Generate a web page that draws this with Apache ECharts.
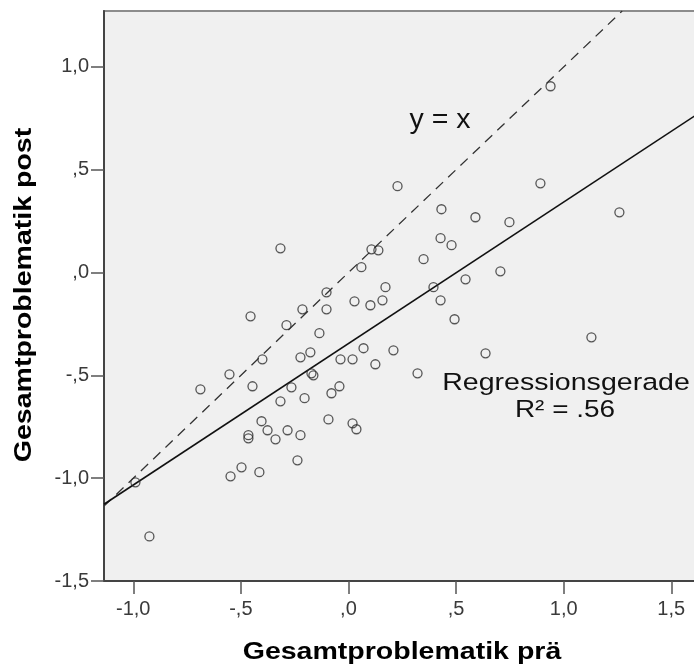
<!DOCTYPE html>
<html>
<head>
<meta charset="utf-8">
<title>Gesamtproblematik prä / post</title>
<script src="https://cdn.jsdelivr.net/npm/echarts@6/dist/echarts.min.js"></script>
<style>
  html, body { margin: 0; padding: 0; background: #ffffff; }
  #chart { width: 694px; height: 666px; }
</style>
</head>
<body>
<div id="chart"></div>
<script>
// Gesamtproblematik vor (prä) und nach (post) – ein Wert pro Person
const praValues = [
  0.939, 0.228, 0.892, 1.259, 0.432, 0.590, 0.748, 0.428, 0.479, 0.107,
  0.139, 0.060, 0.349, 0.172, 0.028, 0.102, 0.158, 0.395, 0.428, 0.544,
  0.706, 0.493, -0.316, -0.102, -0.214, -0.102, -0.288, -0.135, -0.400, -0.223,
  -0.177, -0.037, 0.019, 0.070, 0.125, 0.209, 0.637, 0.321, 1.129, -0.172,
  -0.163, -0.265, -0.042, -0.079, -0.455, -0.553, -0.446, -0.688, -0.316, -0.204,
  -0.404, -0.093, -0.376, -0.283, -0.339, -0.223, -0.465, -0.465, -0.237, -0.548,
  -0.497, -0.414, -0.990, -0.925, 0.019, 0.037
];
const postValues = [
  0.906, 0.420, 0.434, 0.293, 0.308, 0.269, 0.245, 0.167, 0.133, 0.113,
  0.108, 0.026, 0.065, -0.071, -0.140, -0.159, -0.135, -0.071, -0.135, -0.033,
  0.006, -0.227, 0.118, -0.096, -0.179, -0.179, -0.256, -0.295, -0.422, -0.412,
  -0.388, -0.422, -0.422, -0.368, -0.446, -0.378, -0.393, -0.490, -0.315, -0.490,
  -0.500, -0.558, -0.553, -0.587, -0.213, -0.495, -0.553, -0.568, -0.626, -0.611,
  -0.723, -0.714, -0.767, -0.767, -0.811, -0.791, -0.791, -0.806, -0.913, -0.991,
  -0.947, -0.971, -1.020, -1.283, -0.733, -0.762
];

// Lineare Regression post ~ prä
const regressionSlope = 0.688;
const regressionIntercept = -0.345;
const rSquaredText = 'R\u00b2 = .56';

// Achsenbereiche und Beschriftungen (deutsches Dezimalkomma, ohne führende Null)
const xRange = [-1.136, 1.615];
const yRange = [-1.5, 1.272];
const xTickValues = [-1.0, -0.5, 0.0, 0.5, 1.0, 1.5];
const xTickLabels = ['-1,0', '-,5', ',0', ',5', '1,0', '1,5'];
const yTickValues = [-1.5, -1.0, -0.5, 0.0, 0.5, 1.0];
const yTickLabels = ['-1,5', '-1,0', '-,5', ',0', ',5', '1,0'];

const xTitle = 'Gesamtproblematik prä';
const yTitle = 'Gesamtproblematik post';

const points = praValues.map((x, i) => [x, postValues[i]]);
const regressionLine = [
  [xRange[0], regressionIntercept + regressionSlope * xRange[0]],
  [xRange[1], regressionIntercept + regressionSlope * xRange[1]]
];
const identityLine = [
  [xRange[0], xRange[0]],
  [yRange[1], yRange[1]]
];

function tickLabel(values, labels) {
  return function (v) {
    const i = values.findIndex(t => Math.abs(t - v) < 1e-9);
    return i >= 0 ? labels[i] : '';
  };
}

const tickFont = {
  color: '#3a3a3a',
  fontSize: 20,
  fontFamily: 'Liberation Sans, Arial, sans-serif'
};

const chart = echarts.init(document.getElementById('chart'), null, { renderer: 'canvas' });

chart.setOption({
  animation: false,
  backgroundColor: '#ffffff',
  grid: {
    left: 104,
    top: 11,
    right: -2,
    bottom: 85,
    show: true,
    backgroundColor: '#f0f0f0',
    borderColor: '#8c8c8c',
    borderWidth: 2,
    outerBoundsMode: 'none'
  },
  xAxis: {
    type: 'value',
    min: xRange[0],
    max: xRange[1],
    splitLine: { show: false },
    axisLine: { show: true, onZero: false, lineStyle: { color: '#444', width: 2 } },
    axisTick: {
      show: true,
      length: 13,
      customValues: xTickValues,
      lineStyle: { color: '#555', width: 1.5 }
    },
    axisLabel: Object.assign({
      customValues: xTickValues,
      margin: 18,
      formatter: tickLabel(xTickValues, xTickLabels)
    }, tickFont)
  },
  yAxis: {
    type: 'value',
    min: yRange[0],
    max: yRange[1],
    splitLine: { show: false },
    axisLine: { show: true, onZero: false, lineStyle: { color: '#444', width: 2 } },
    axisTick: {
      show: true,
      length: 13,
      customValues: yTickValues,
      lineStyle: { color: '#555', width: 1.5 }
    },
    axisLabel: Object.assign({
      customValues: yTickValues,
      margin: 15,
      formatter: tickLabel(yTickValues, yTickLabels)
    }, tickFont)
  },
  series: [
    {
      name: 'y = x',
      type: 'line',
      data: identityLine,
      showSymbol: false,
      silent: true,
      lineStyle: { color: '#333', width: 1.3, type: [10, 7] },
      z: 2
    },
    {
      name: 'Regressionsgerade',
      type: 'line',
      data: regressionLine,
      showSymbol: false,
      silent: true,
      lineStyle: { color: '#111', width: 1.6, type: 'solid' },
      z: 3
    },
    {
      name: 'Personen',
      type: 'scatter',
      data: points,
      symbol: 'circle',
      symbolSize: 9,
      itemStyle: { color: 'rgba(0,0,0,0)', borderColor: '#2e2e2e', borderWidth: 1.3 },
      z: 4
    }
  ],
  graphic: [
    {
      type: 'text',
      x: 402,
      y: 653,
      scaleX: 1.24,
      style: {
        text: xTitle,
        fill: '#000',
        fontSize: 23,
        fontWeight: 'bold',
        fontFamily: 'Liberation Sans, Arial, sans-serif',
        align: 'center',
        verticalAlign: 'middle'
      }
    },
    {
      type: 'text',
      x: 25,
      y: 295,
      rotation: Math.PI / 2,
      scaleX: 1.24,
      style: {
        text: yTitle,
        fill: '#000',
        fontSize: 23,
        fontWeight: 'bold',
        fontFamily: 'Liberation Sans, Arial, sans-serif',
        align: 'center',
        verticalAlign: 'middle'
      }
    },
    {
      type: 'text',
      x: 440,
      y: 120,
      z: 10,
      style: {
        text: 'y = x',
        fill: '#111',
        fontSize: 28.5,
        fontFamily: 'Liberation Sans, Arial, sans-serif',
        align: 'center',
        verticalAlign: 'middle'
      }
    },
    {
      type: 'text',
      x: 566,
      y: 383,
      z: 10,
      scaleX: 1.165,
      style: {
        text: 'Regressionsgerade',
        fill: '#111',
        fontSize: 24.5,
        fontFamily: 'Liberation Sans, Arial, sans-serif',
        align: 'center',
        verticalAlign: 'middle'
      }
    },
    {
      type: 'text',
      x: 565,
      y: 410.5,
      z: 10,
      scaleX: 1.14,
      style: {
        text: rSquaredText,
        fill: '#111',
        fontSize: 24.5,
        fontFamily: 'Liberation Sans, Arial, sans-serif',
        align: 'center',
        verticalAlign: 'middle'
      }
    }
  ]
});
</script>
</body>
</html>
